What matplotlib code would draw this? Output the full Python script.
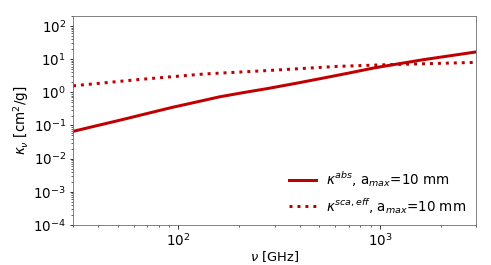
import matplotlib
matplotlib.use("Agg")
import matplotlib.pyplot as plt
import numpy as np

# Data (frequency in GHz, opacity in cm^2/g)
nu_abs = [30, 52.6, 92.3, 130, 160, 210, 277, 380, 502, 700, 944, 1637, 3000]
kappa_abs = [0.0665, 0.150, 0.347, 0.55, 0.731, 0.98, 1.30, 1.85, 2.56, 3.8, 5.5, 9.6, 16.5]

nu_sca = [30, 64, 135, 284, 611, 1000, 3000]
kappa_sca = [1.57, 2.44, 3.58, 4.57, 6.04, 6.7, 8.0]

label_abs = r'$\kappa^{abs}$, a$_{max}$=10 mm'
label_sca = r'$\kappa^{sca,eff}$, a$_{max}$=10 mm'
color = '#c00000'

plt.rcParams['font.size'] = 13.5
fig = plt.figure(figsize=(491/72, 265/72), dpi=72)
ax = fig.add_axes([73/491, 40/265, 403/491, 209/265])

ax.loglog(nu_abs, kappa_abs, '-', color=color, lw=3, label=label_abs)
ax.loglog(nu_sca, kappa_sca, ':', color=color, lw=3, label=label_sca)

ax.set_xlim(30, 3000)
ax.set_ylim(1e-4, 2e2)
ax.set_yticks([1e-4, 1e-3, 1e-2, 1e-1, 1e0, 1e1, 1e2])
ax.set_xlabel(r'$\nu$ [GHz]', labelpad=0, fontsize=13)
ax.set_ylabel(r'$\kappa_{\nu}$ [cm$^2$/g]', labelpad=2)
for s in ax.spines.values():
    s.set_color('#666666')
ax.legend(loc='lower right', frameon=False, borderaxespad=0.3, handlelength=2.0)

fig.savefig('out.png', dpi=72)
